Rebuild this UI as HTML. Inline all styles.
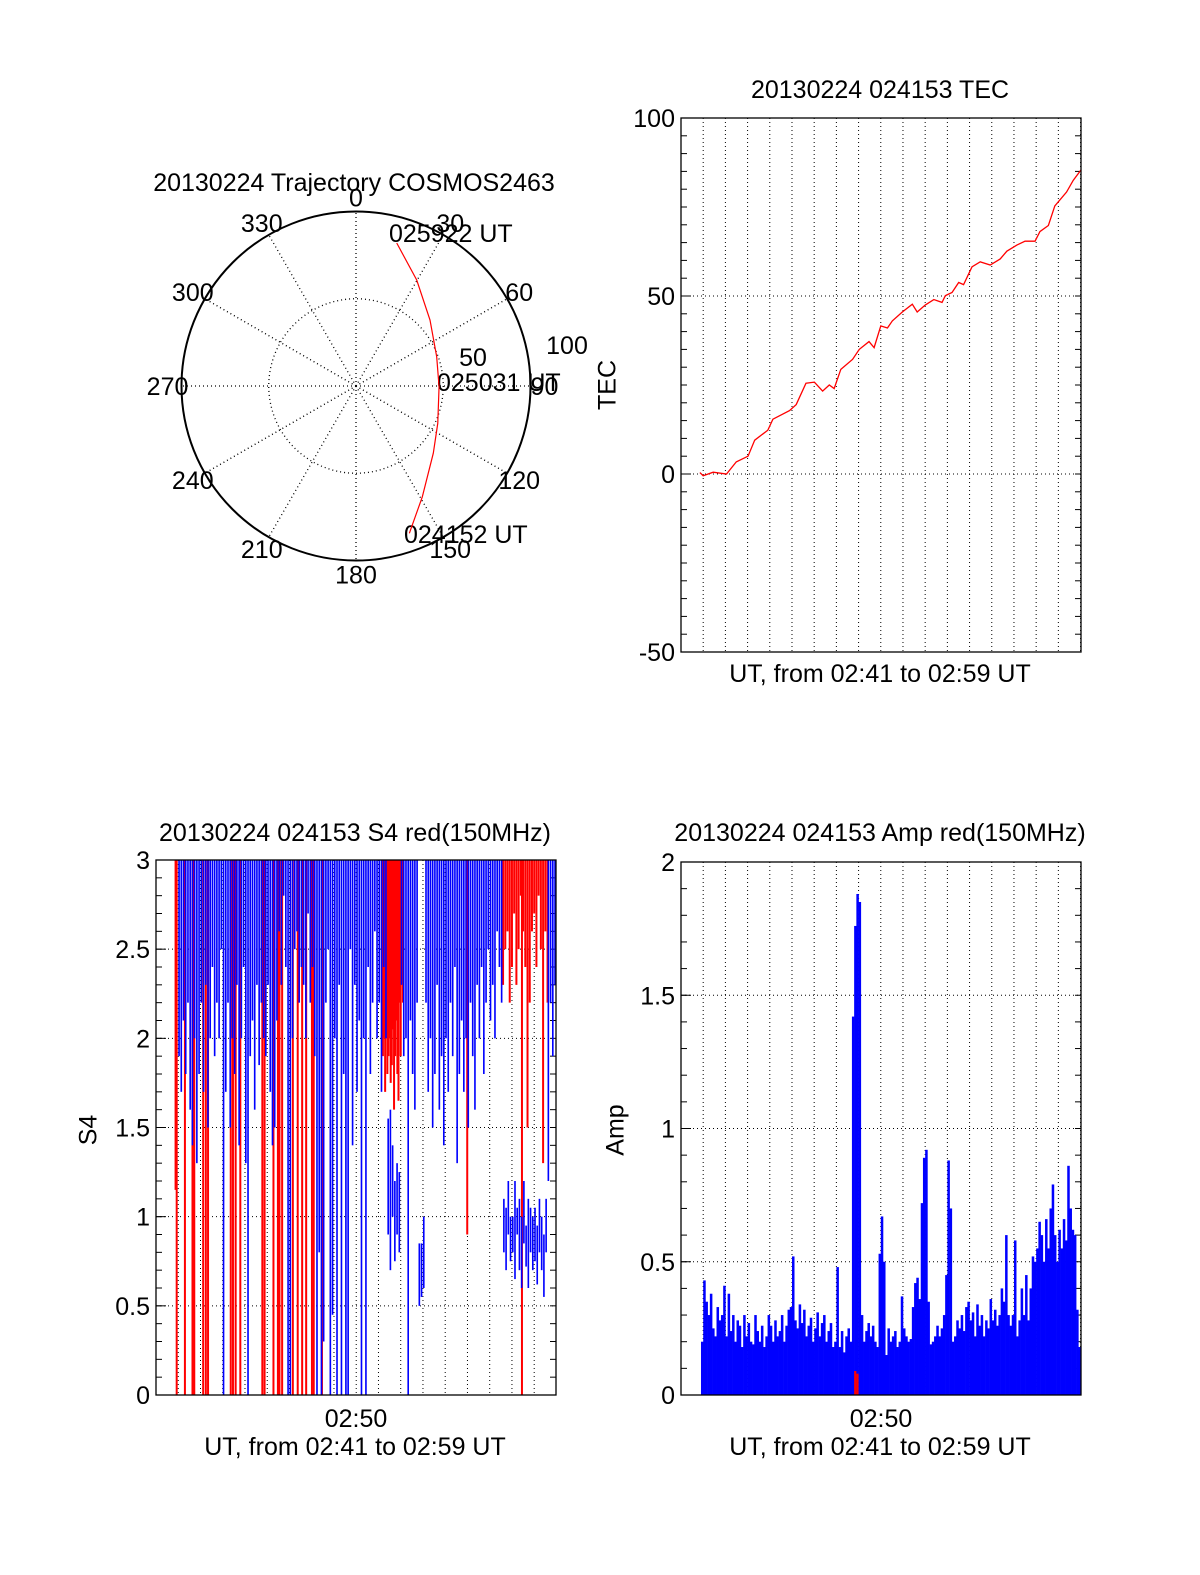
<!DOCTYPE html>
<html><head><meta charset="utf-8"><title>COSMOS2463 20130224</title>
<style>
html,body{margin:0;padding:0;background:#fff;}
svg{display:block;font-family:"Liberation Sans",sans-serif;}
text{font-size:25px;fill:#000;}
</style></head>
<body>
<svg id="fig" width="1200" height="1575" viewBox="0 0 1200 1575" xmlns="http://www.w3.org/2000/svg">
<rect x="0" y="0" width="1200" height="1575" fill="#fff"/>
<text x="354" y="191" text-anchor="middle">20130224 Trajectory COSMOS2463</text>
<text x="389" y="242">025922 UT</text>
<text x="437" y="391">025031 UT</text>
<text x="404" y="543">024152 UT</text>
<text x="473" y="366" text-anchor="middle">50</text>
<text x="567" y="354" text-anchor="middle">100</text>
<text x="880" y="98" text-anchor="middle">20130224 024153 TEC</text>
<text x="609" y="385" text-anchor="middle" transform="rotate(-90 609 385)" dominant-baseline="middle">TEC</text>
<text x="880" y="682" text-anchor="middle">UT, from 02:41 to 02:59 UT</text>
<text x="355" y="841" text-anchor="middle">20130224 024153 S4 red(150MHz)</text>
<text x="90" y="1130" text-anchor="middle" transform="rotate(-90 90 1130)" dominant-baseline="middle">S4</text>
<text x="356" y="1427" text-anchor="middle">02:50</text>
<text x="355" y="1455" text-anchor="middle">UT, from 02:41 to 02:59 UT</text>
<text x="880" y="841" text-anchor="middle">20130224 024153 Amp red(150MHz)</text>
<text x="617" y="1130" text-anchor="middle" transform="rotate(-90 617 1130)" dominant-baseline="middle">Amp</text>
<text x="881" y="1427" text-anchor="middle">02:50</text>
<text x="880" y="1455" text-anchor="middle">UT, from 02:41 to 02:59 UT</text>
</svg>
<script>
const trajAzimuth = [15.9, 29.8, 48.3, 70.0, 90.5, 114.5, 131.0, 149.1, 160.1];
const trajRadius  = [85.2, 70.0, 56.8, 49.2, 47.6, 51.5, 58.7, 74.0, 89.8];
const polarAngleLabels = [0, 30, 60, 90, 120, 150, 180, 210, 240, 270, 300, 330];

const tecTime = [-0.15,0,0.45,1.05,1.49,2.02,2.32,2.91,3.14,3.89,4.19,4.63,5.01,5.38,5.68,5.9,6.2,6.73,7.03,7.47,7.7,8.0,8.3,8.52,8.97,9.42,9.64,10.01,10.39,10.76,10.91,11.21,11.51,11.73,12.11,12.48,12.93,13.38,13.68,14.13,14.5,14.95,15.17,15.55,15.84,16.37,16.67,17.03];
const tecValue = [0.4,-0.5,0.5,0,3.4,5,9.5,12.3,15.4,17.8,19.5,25.5,25.8,23.3,25,24,29.4,32.2,35,37.2,35.5,41.6,41,43,45.5,47.7,45.5,47.5,49,48.2,50.1,51,53.8,53.2,58.2,59.6,58.7,60.4,62.6,64.3,65.4,65.4,68.1,69.8,75.3,79.2,82.5,85.5];
const tecTicks = [-50, 0, 50, 100];

const ampStart = -0.1;
const ampStep = 0.1;
const ampValue = [
0.2,0.43,0.35,0.3,0.38,0.25,0.22,0.33,0.28,0.3,
0.41,0.22,0.38,0.24,0.3,0.2,0.28,0.26,0.18,0.3,
0.22,0.27,0.2,0.19,0.3,0.24,0.2,0.26,0.18,0.22,
0.3,0.26,0.2,0.28,0.22,0.24,0.3,0.2,0.26,0.32,
0.33,0.52,0.28,0.25,0.34,0.27,0.32,0.22,0.26,0.29,
0.2,0.25,0.31,0.22,0.27,0.3,0.2,0.24,0.27,0.18,
0.2,0.48,0.18,0.24,0.16,0.22,0.25,0.2,1.42,1.76,
1.88,1.85,0.3,0.2,0.24,0.27,0.22,0.26,0.2,0.18,
0.53,0.67,0.5,0.15,0.25,0.2,0.22,0.24,0.18,0.2,
0.37,0.25,0.22,0.2,0.21,0.33,0.42,0.44,0.36,0.72,
0.89,0.92,0.35,0.19,0.2,0.22,0.26,0.22,0.25,0.3,
0.45,0.88,0.7,0.2,0.22,0.28,0.25,0.3,0.24,0.33,
0.35,0.28,0.31,0.22,0.34,0.26,0.3,0.22,0.28,0.25,
0.36,0.28,0.32,0.26,0.3,0.4,0.35,0.6,0.3,0.26,
0.3,0.58,0.22,0.28,0.4,0.3,0.45,0.28,0.4,0.52,
0.5,0.55,0.65,0.6,0.5,0.66,0.55,0.7,0.79,0.6,
0.5,0.62,0.55,0.66,0.58,0.86,0.7,0.62,0.6,0.32,
0.18,0.4];
const ampRedTime = [6.8, 6.9];
const ampRedValue = [0.09, 0.08];
const ampTicks = [0, 0.5, 1, 1.5, 2];
const ampTickLabels = ["0","0.5","1","1.5","2"];

const s4Start = 0;
const s4Step = 0.1;
const s4BlueLo = [
1.9,1.7,2.1,1.8,2.2,1.6,1.4,2.0,1.3,1.8,
2.2,1.7,2.3,1.5,2.0,2.4,1.9,2.2,2.0,2.5,
0,1.7,2.2,1.5,2.0,1.8,2.3,1.4,2.0,2.4,
1.3,0,1.9,2.1,1.6,2.3,1.85,2.2,2.0,1.9,
2.3,1.7,1.4,1.5,2.1,2.6,2.3,2.8,2.4,0,
0,2.0,2.5,2.6,2.2,2.4,2.3,2.0,2.7,2.2,
2.4,1.9,0,0.8,0,0.3,2.2,2.5,0,0.45,
2.0,0,2.3,0,1.8,0,0,2.5,1.4,2.3,
1.7,2.1,0,2.0,0,2.4,1.8,2.2,2.6,2.0,
2.2,1.7,2.4,2.0,0.9,0.7,1.0,0.75,0.9,0.8,
2.3,1.9,2.0,0,2.1,1.8,1.6,2.2,0.5,0.55,
0.6,2.2,1.7,2.0,1.5,1.8,2.3,1.6,1.9,1.4,
2.0,1.7,2.2,1.9,2.4,1.3,1.8,2.1,1.7,2.0,
1.5,2.2,1.9,1.6,2.3,2.0,2.4,1.8,2.2,2.5,
2.1,2.3,2.0,2.6,2.4,2.2,0.8,0.7,0.9,0.75,
0.8,0.65,0.9,0.7,0.6,0.85,0.72,0.6,0.8,0.7,
0.75,0.62,0.8,0.7,0.55,0.8,1.2,2.2,1.9,2.3];
const s4BlueHi = [
3,3,3,3,3,3,3,3,3,3, 3,3,3,3,3,3,3,3,3,3, 3,3,3,3,3,3,3,3,3,3,
3,3,3,3,3,3,3,3,3,3, 3,3,3,3,3,3,3,3,3,3, 3,3,3,3,3,3,3,3,3,3,
3,3,3,3,3,3,3,3,3,3, 3,3,3,3,3,3,3,3,3,3, 3,3,3,3,3,3,3,3,3,3,
3,3,3,3,1.55,1.6,1.4,1.2,1.3,1.25,
3,3,3,3,3,3,3,3,0.85,0.85,
1.0,3,3,3,3,3,3,3,3,3,
3,3,3,3,3,3,3,3,3,3,
3,3,3,3,3,3,3,3,3,3,
3,3,3,3,3,3,1.1,1.05,1.2,1.0,
1.0,1.2,1.05,1.1,1.0,1.2,0.95,1.1,1.05,1.0,
1.05,0.95,1.1,1.0,0.9,1.1,3,3,3,3];
const s4RedTime = [-0.12,-0.07,0.3,0.64,0.72,1.12,1.24,1.34,2.36,2.46,2.58,2.79,3.78,3.88,4.28,4.48,4.55,4.67,5.15,5.37,5.57,5.75,6.01,6.09,6.46,12.99,15.45,
9.2,9.25,9.3,9.35,9.4,9.45,9.5,9.55,9.6,9.65,9.7,9.75,9.8,9.85,9.9,9.95,10.0,10.1,
14.6,14.7,14.8,14.9,15.0,15.1,15.2,15.3,15.4,15.5,15.6,15.7,15.8,15.9,16.0,16.1,16.2,16.3,16.4,16.5,16.6];
const s4RedLo = [1.15,0,0,0,0,0,0,0,0,0,0,0,0,0,0,0,0,0,0,0,0,0,0,0,0,0.9,0,
1.9,2.0,1.7,2.1,1.8,1.9,2.0,1.75,1.85,2.05,1.6,1.9,2.1,1.8,1.65,2.2,1.9,2.2,
2.3,2.5,2.6,2.2,2.4,2.7,2.3,2.5,2.8,2.6,2.4,1.5,2.2,2.6,2.7,2.4,2.8,2.5,1.3,2.6,2.2];
const s4Ticks = [0, 0.5, 1, 1.5, 2, 2.5, 3];
const s4TickLabels = ["0","0.5","1","1.5","2","2.5","3"];

const NS = "http://www.w3.org/2000/svg";
const svg = document.getElementById('fig');
function mk(tag, attrs, parent){
  const e = document.createElementNS(NS, tag);
  for (const k in attrs) e.setAttribute(k, attrs[k]);
  (parent || svg).appendChild(e);
  return e;
}
function lin(d0, d1, r0, r1){ return v => r0 + (v - d0) * (r1 - r0) / (d1 - d0); }
const DOT = "1,3";

const pcx = 356, pcy = 386, pR = 174.5;
const pr = lin(0, 100, 0, pR);
function polarXY(az, r){ const a = az * Math.PI / 180; return [pcx + pr(r) * Math.sin(a), pcy - pr(r) * Math.cos(a)]; }
const pg = mk('g', {});


for (let a = 0; a < 360; a += 30) {
  const [x2, y2] = polarXY(a, 100);
  const sp = mk('line', {x1: pcx, y1: pcy, x2: x2, y2: y2, stroke: '#000', 'stroke-width': 1.3, 'stroke-dasharray': DOT}, pg);
  
  
}
const inner = mk('circle', {cx: pcx, cy: pcy, r: pr(50), fill: 'none', stroke: '#000', 'stroke-width': 1.3, 'stroke-dasharray': DOT}, pg);


const outer = mk('circle', {cx: pcx, cy: pcy, r: pr(100), fill: 'none', stroke: '#000', 'stroke-width': 2}, pg);


polarAngleLabels.forEach(a => {
  const [x, y] = polarXY(a, 108);
  const t = mk('text', {x: x, y: y + 9, 'text-anchor': 'middle'}, pg);
  t.textContent = String(a);
  
  
});
const trajPts = trajAzimuth.map((az, i) => polarXY(az, trajRadius[i]).join(',')).join(' ');
const traj = mk('polyline', {points: trajPts, fill: 'none', stroke: '#f00', 'stroke-width': 1.2}, pg);



function frame(name, L, T, R, B, yScale, ticks, labels, minorStep, yMin, yMax, gridVals, xScale){
  const g = mk('g', {});
  
  
  for (let m = 0; m <= 17; m++) {
    const x = xScale(m);
    if (x <= L || x >= R) continue;
    const gl = mk('line', {x1: x, y1: T, x2: x, y2: B, stroke: '#000', 'stroke-width': 1, 'stroke-dasharray': DOT}, g);
    
    
  }
  gridVals.forEach(v => {
    const y = yScale(v);
    const gl = mk('line', {x1: L, y1: y, x2: R, y2: y, stroke: '#000', 'stroke-width': 1, 'stroke-dasharray': DOT}, g);
    
    
  });
  for (let v = yMin; v <= yMax + 1e-9; v += minorStep) {
    const y = yScale(v);
    const t1 = mk('line', {x1: L, y1: y, x2: L + 6, y2: y, stroke: '#000', 'stroke-width': 1}, g);
    
    
    const t2 = mk('line', {x1: R - 6, y1: y, x2: R, y2: y, stroke: '#000', 'stroke-width': 1}, g);
    
    
  }
  ticks.forEach((v, i) => {
    const y = yScale(v);
    const ml = mk('line', {x1: L, y1: y, x2: L + 10, y2: y, stroke: '#000', 'stroke-width': 1}, g);
    
    
    const tx = mk('text', {x: L - 6, y: y + 9, 'text-anchor': 'end'}, g);
    tx.textContent = labels[i];
    
    
  });
  return g;
}
function border(name, L, T, R, B){
  const b = mk('rect', {x: L, y: T, width: R - L, height: B - T, fill: 'none', stroke: '#000', 'stroke-width': 1.3});
  
  
}

{
  const L = 681, T = 118, R = 1081, B = 652;
  const xs = lin(-1, 17.02, L, R);
  const ys = lin(-50, 100, B, T);
  frame('tec', L, T, R, B, ys, tecTicks, tecTicks.map(String), 5, -50, 100, [0, 50], xs);
  const pts = tecTime.map((t, i) => xs(t) + ',' + ys(tecValue[i])).join(' ');
  const ln = mk('polyline', {points: pts, fill: 'none', stroke: '#f00', 'stroke-width': 1.3});
  
  
  border('tec', L, T, R, B);
}

{
  const L = 156, T = 860, R = 556, B = 1395;
  const xs = lin(-1, 16.98, L, R);
  const ys = lin(0, 3, B, T);
  frame('s4', L, T, R, B, ys, s4Ticks, s4TickLabels, 0.1, 0, 3, [0.5, 1, 1.5, 2, 2.5], xs);
  const g = mk('g', {});
  
  
  s4RedTime.forEach((t, i) => {
    const x = xs(t);
    const r = mk('line', {x1: x, y1: ys(3), x2: x, y2: ys(s4RedLo[i]), stroke: '#f00', 'stroke-width': 2}, g);
    
    
  });
  s4BlueLo.forEach((lo, i) => {
    const t = s4Start + i * s4Step;
    const x0 = xs(t), x1 = xs(t + s4Step);
    const hi = s4BlueHi[i];
    const r = mk('rect', {x: x0, y: ys(hi), width: Math.max(0.5, x1 - x0 - 0.6), height: ys(lo) - ys(hi), fill: '#00f'}, g);
    
    
  });
  border('s4', L, T, R, B);
}

{
  const L = 681, T = 862, R = 1081, B = 1395;
  const xs = lin(-1, 17.02, L, R);
  const ys = lin(0, 2, B, T);
  frame('amp', L, T, R, B, ys, ampTicks, ampTickLabels, 0.1, 0, 2, [0.5, 1, 1.5], xs);
  const g = mk('g', {});
  
  
  ampValue.forEach((v, i) => {
    const t = ampStart + i * ampStep;
    const x0 = xs(t), x1 = Math.min(R, xs(t + ampStep));
    const r = mk('rect', {x: x0, y: ys(v), width: x1 - x0 + 0.3, height: B - ys(v), fill: '#00f'}, g);
    
    
  });
  ampRedTime.forEach((t, i) => {
    const x0 = xs(t), x1 = xs(t + ampStep);
    const r = mk('rect', {x: x0, y: ys(ampRedValue[i]), width: x1 - x0, height: B - ys(ampRedValue[i]), fill: '#f00'}, g);
    
    
  });
  border('amp', L, T, R, B);
}
</script>
</body></html>
